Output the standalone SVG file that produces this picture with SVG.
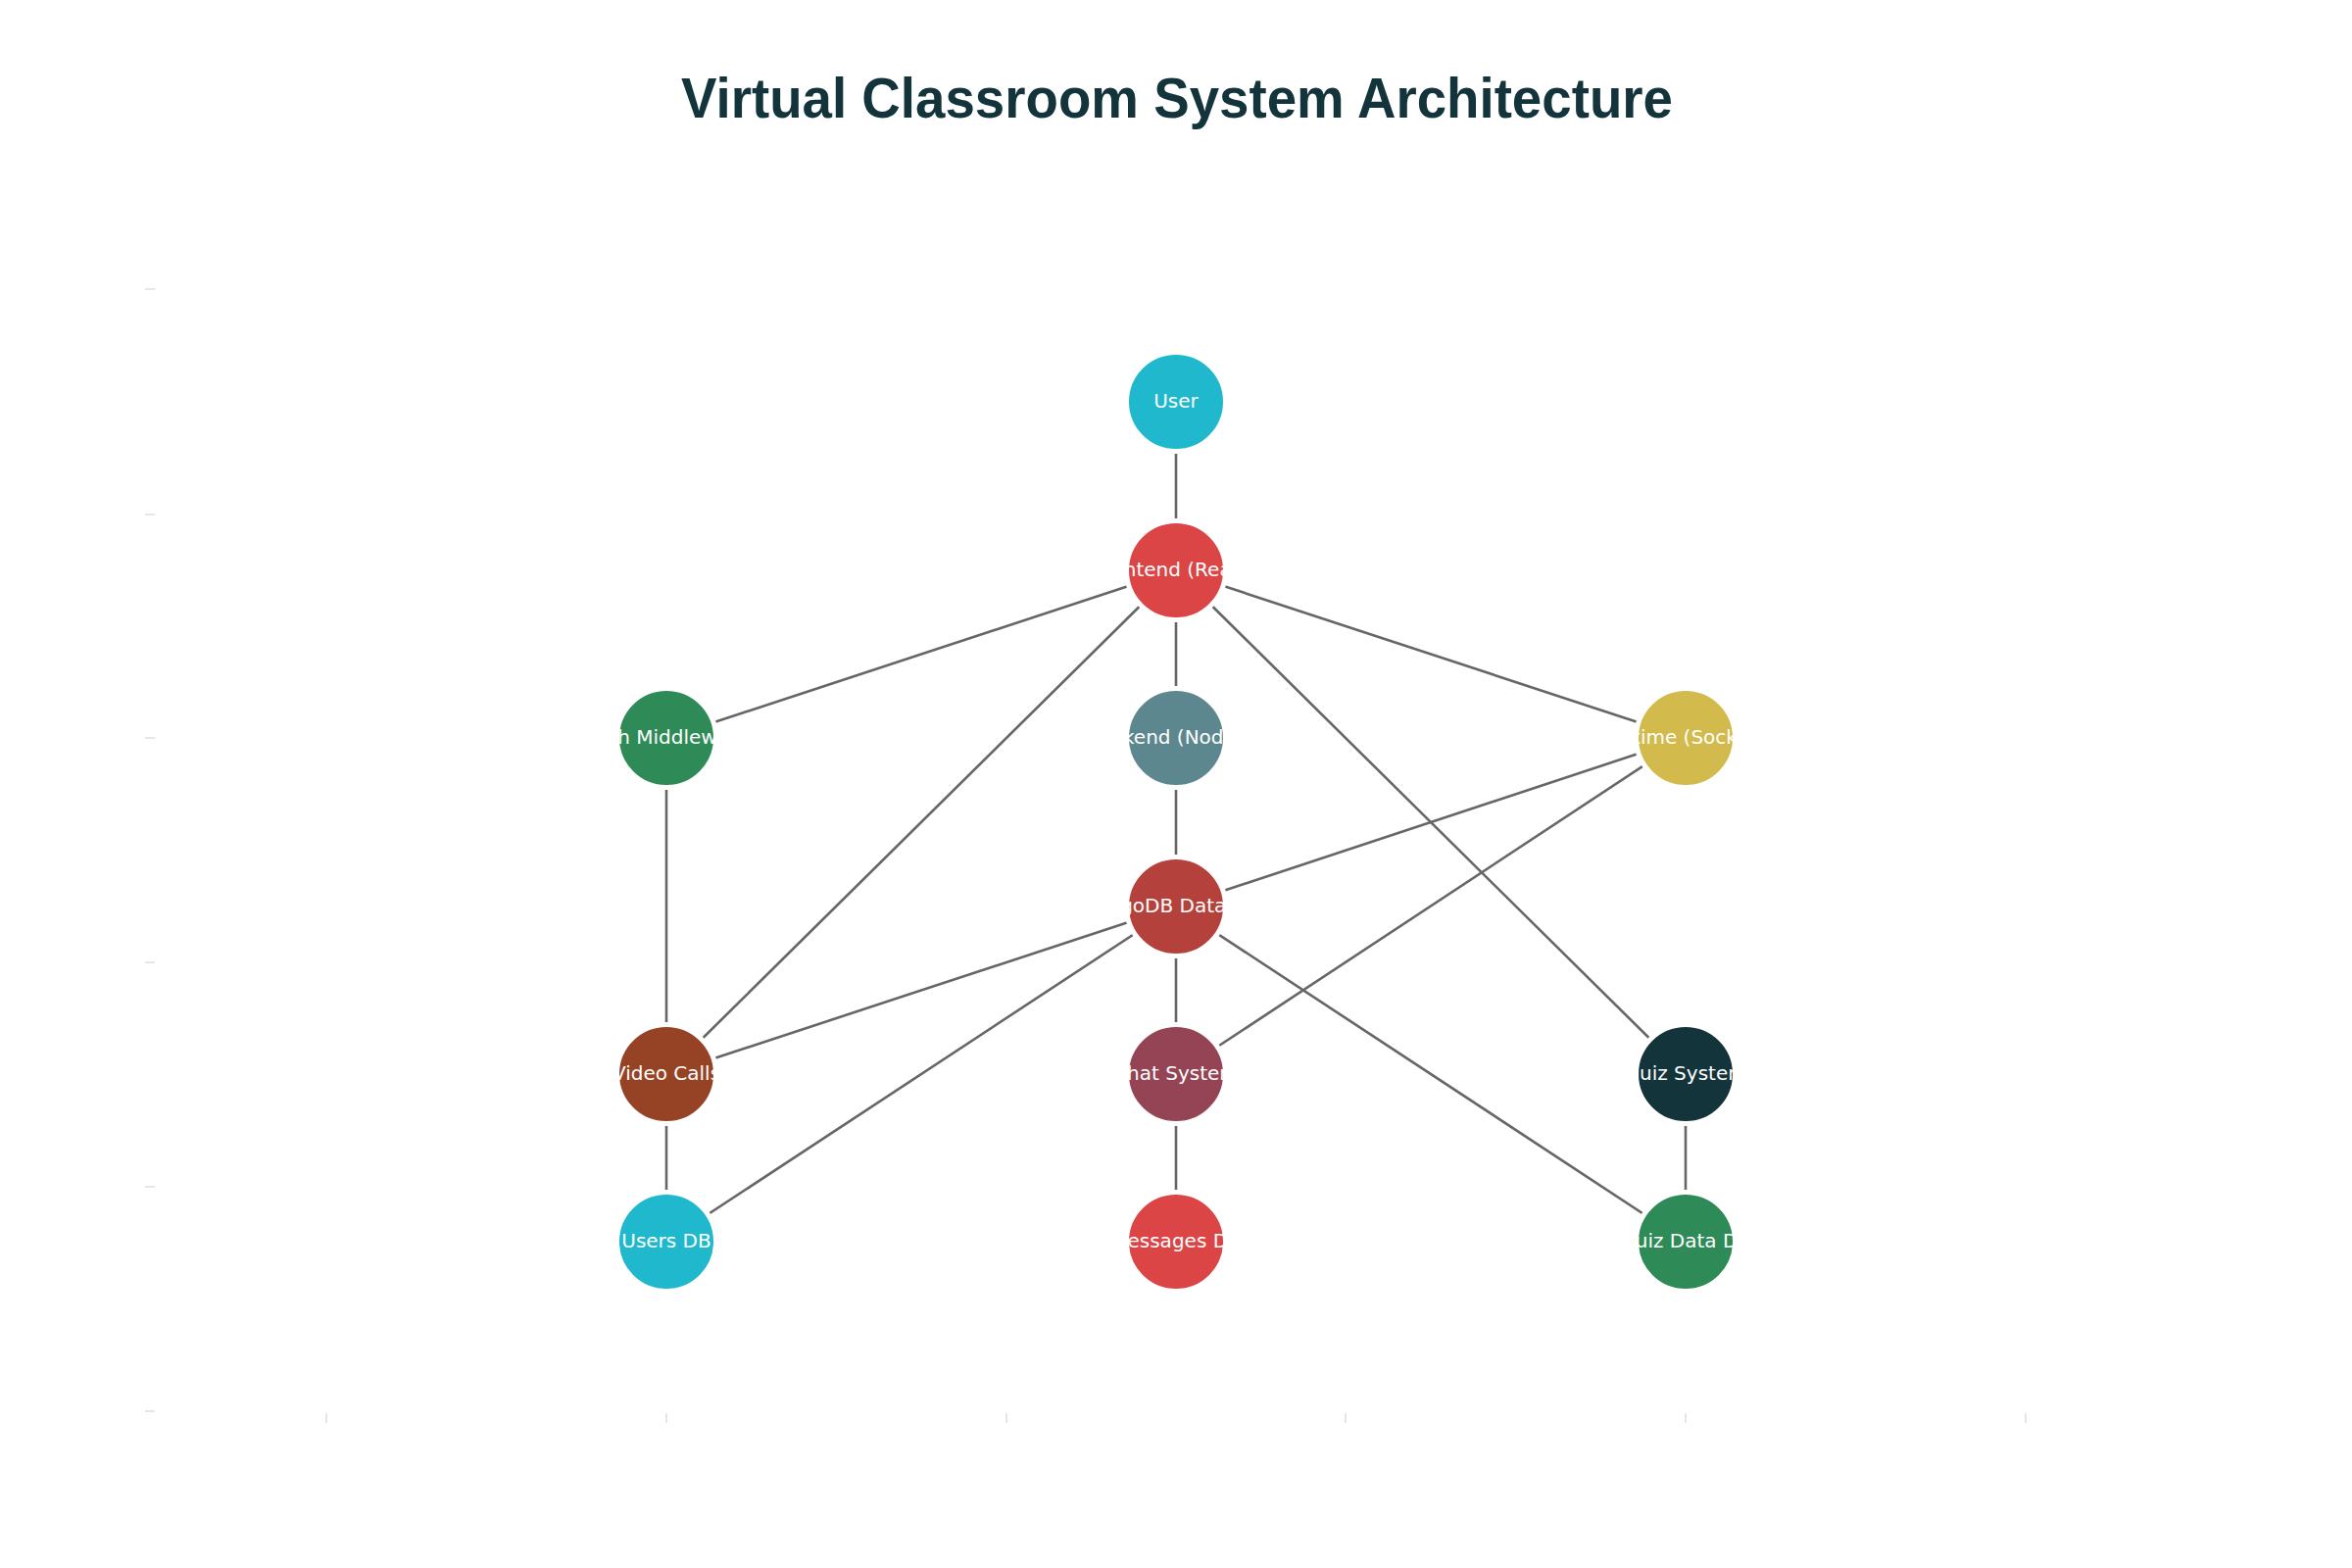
<svg xmlns="http://www.w3.org/2000/svg" width="2400" height="1600" viewBox="0 0 2400 1600">
<style>
.title{font-family:"Liberation Sans",Arial,sans-serif;font-weight:bold;font-size:57px;fill:#13343B}
.edge{stroke:#666666;stroke-width:2.6;fill:none}
.node circle{stroke:#ffffff;stroke-width:5}
.node text{font-family:"DejaVu Sans",sans-serif;font-size:20px;fill:#ffffff;text-anchor:middle}
.tick{stroke:#d9d9d9;stroke-width:1.3}
</style>
<rect width="2400" height="1600" fill="#ffffff"/>
<text class="title" x="695" y="120" textLength="1012" lengthAdjust="spacingAndGlyphs">Virtual Classroom System Architecture</text>
<g id="axes">
<line class="tick" x1="148" y1="295" x2="158" y2="295"/>
<line class="tick" x1="148" y1="525" x2="158" y2="525"/>
<line class="tick" x1="148" y1="753" x2="158" y2="753"/>
<line class="tick" x1="148" y1="982" x2="158" y2="982"/>
<line class="tick" x1="148" y1="1211" x2="158" y2="1211"/>
<line class="tick" x1="148" y1="1440" x2="158" y2="1440"/>
<line class="tick" x1="333" y1="1442" x2="333" y2="1452"/>
<line class="tick" x1="680" y1="1442" x2="680" y2="1452"/>
<line class="tick" x1="1027" y1="1442" x2="1027" y2="1452"/>
<line class="tick" x1="1373" y1="1442" x2="1373" y2="1452"/>
<line class="tick" x1="1720" y1="1442" x2="1720" y2="1452"/>
<line class="tick" x1="2067" y1="1442" x2="2067" y2="1452"/>
</g>
<g id="connectors">
<line class="edge" x1="1200" y1="410" x2="1200" y2="582"/>
<line class="edge" x1="1200" y1="582" x2="680" y2="753"/>
<line class="edge" x1="1200" y1="582" x2="680" y2="1096"/>
<line class="edge" x1="1200" y1="582" x2="1200" y2="753"/>
<line class="edge" x1="1200" y1="582" x2="1720" y2="1096"/>
<line class="edge" x1="1200" y1="582" x2="1720" y2="753"/>
<line class="edge" x1="680" y1="753" x2="680" y2="1096"/>
<line class="edge" x1="1200" y1="753" x2="1200" y2="925"/>
<line class="edge" x1="1720" y1="753" x2="1200" y2="925"/>
<line class="edge" x1="1720" y1="753" x2="1200" y2="1096"/>
<line class="edge" x1="1200" y1="925" x2="680" y2="1096"/>
<line class="edge" x1="1200" y1="925" x2="680" y2="1267"/>
<line class="edge" x1="1200" y1="925" x2="1200" y2="1096"/>
<line class="edge" x1="1200" y1="925" x2="1720" y2="1267"/>
<line class="edge" x1="1200" y1="1096" x2="1200" y2="1267"/>
<line class="edge" x1="1720" y1="1096" x2="1720" y2="1267"/>
<line class="edge" x1="680" y1="1096" x2="680" y2="1267"/>
</g>
<g id="node-user" class="node"><circle cx="1200" cy="410" r="50.5" fill="#1FB8CD"/><text x="1200" y="416">User</text></g>
<g id="node-frontend" class="node"><circle cx="1200" cy="582" r="50.5" fill="#DB4545"/><text x="1200" y="588">Frontend (React)</text></g>
<g id="node-auth" class="node"><circle cx="680" cy="753" r="50.5" fill="#2E8B57"/><text x="680" y="759">Auth Middleware</text></g>
<g id="node-backend" class="node"><circle cx="1200" cy="753" r="50.5" fill="#5D878F"/><text x="1200" y="759">Backend (Node.js)</text></g>
<g id="node-realtime" class="node"><circle cx="1720" cy="753" r="50.5" fill="#D2BA4C"/><text x="1720" y="759">Real-time (Socket.io)</text></g>
<g id="node-mongodb" class="node"><circle cx="1200" cy="925" r="50.5" fill="#B4413C"/><text x="1200" y="931">MongoDB Database</text></g>
<g id="node-video" class="node"><circle cx="680" cy="1096" r="50.5" fill="#964325"/><text x="680" y="1102">Video Calls</text></g>
<g id="node-chat" class="node"><circle cx="1200" cy="1096" r="50.5" fill="#944454"/><text x="1200" y="1102">Chat System</text></g>
<g id="node-quiz" class="node"><circle cx="1720" cy="1096" r="50.5" fill="#13343B"/><text x="1720" y="1102">Quiz System</text></g>
<g id="node-usersdb" class="node"><circle cx="680" cy="1267" r="50.5" fill="#1FB8CD"/><text x="680" y="1273">Users DB</text></g>
<g id="node-messagesdb" class="node"><circle cx="1200" cy="1267" r="50.5" fill="#DB4545"/><text x="1200" y="1273">Messages DB</text></g>
<g id="node-quizdatadb" class="node"><circle cx="1720" cy="1267" r="50.5" fill="#2E8B57"/><text x="1720" y="1273">Quiz Data DB</text></g>
</svg>
